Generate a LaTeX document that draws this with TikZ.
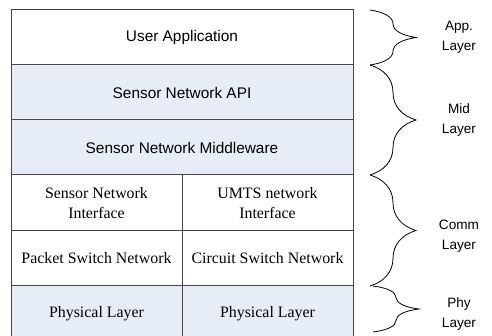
\documentclass[tikz,border=0pt]{standalone}
\usepackage{fontspec}
\setmainfont{Liberation Serif}
\newfontfamily\arialfont{Liberation Sans}
\usepackage{tikz}
\usetikzlibrary{positioning}
\usetikzlibrary{decorations.pathreplacing}
\definecolor{layerblue}{RGB}{230,237,247}
\definecolor{edgegray}{RGB}{70,70,70}

\begin{document}
\begin{tikzpicture}[x=1pt,y=1pt,
  layer/.style={rectangle,draw=edgegray,line width=1pt,outer sep=0pt,inner sep=0pt,align=center},
  wide/.style={layer,minimum width=342pt,minimum height=55pt,font=\arialfont\fontsize{15.4}{18}\selectfont},
  half/.style={layer,minimum width=171pt,minimum height=55pt,font=\fontsize{15.9}{20}\selectfont},
  shaded/.style={fill=layerblue},
  brace/.style={decorate,decoration={brace,amplitude=46pt},line width=0.8pt},
  lbl/.style={align=center,font=\arialfont\fontsize{13.6}{20}\selectfont}]
\useasboundingbox (0,0) rectangle (492,-336);
\clip (0,0) rectangle (492,-336);

\node [wide] (app) at (182,-37.5) {User Application};
\node [wide,shaded,below=0pt of app] (api) {Sensor Network API};
\node [wide,shaded,below=0pt of api] (mw) {Sensor Network Middleware};
\node [half,minimum height=56pt,below right=0pt of mw.south west] (sni) {Sensor Network\\Interface};
\node [half,minimum height=56pt,right=0pt of sni] (umts) {UMTS network\\Interface};
\node [half,below=0pt of sni] (psn) {Packet Switch Network};
\node [half,below=0pt of umts] (csn) {Circuit Switch Network};
\node [half,shaded,below=0pt of psn] (phyl) {Physical Layer};
\node [half,shaded,below=0pt of csn] (phyr) {Physical Layer};

\draw [brace] ([xshift=17pt]app.north east) -- ([xshift=17pt]app.south east);
\draw [brace] ([xshift=17pt]api.north east) -- ([xshift=17pt]mw.south east);
\draw [brace] ([xshift=17pt]umts.north east) -- ([xshift=17pt]csn.south east);
\draw [brace] ([xshift=20pt]phyr.north east) -- ([xshift=20pt,yshift=-46pt]phyr.north east);

\node [lbl] (applbl) at ([xshift=106pt]app.east) {App.\\Layer};
\node [lbl] (midlbl) at ([xshift=106pt]api.south east) {Mid\\Layer};
\node [lbl] (commlbl) at ([xshift=106pt,yshift=-5pt]umts.south east) {Comm\\Layer};
\node [lbl] (phylbl) at ([xshift=106pt]phyr.east) {Phy\\Layer};
\end{tikzpicture}
\end{document}
